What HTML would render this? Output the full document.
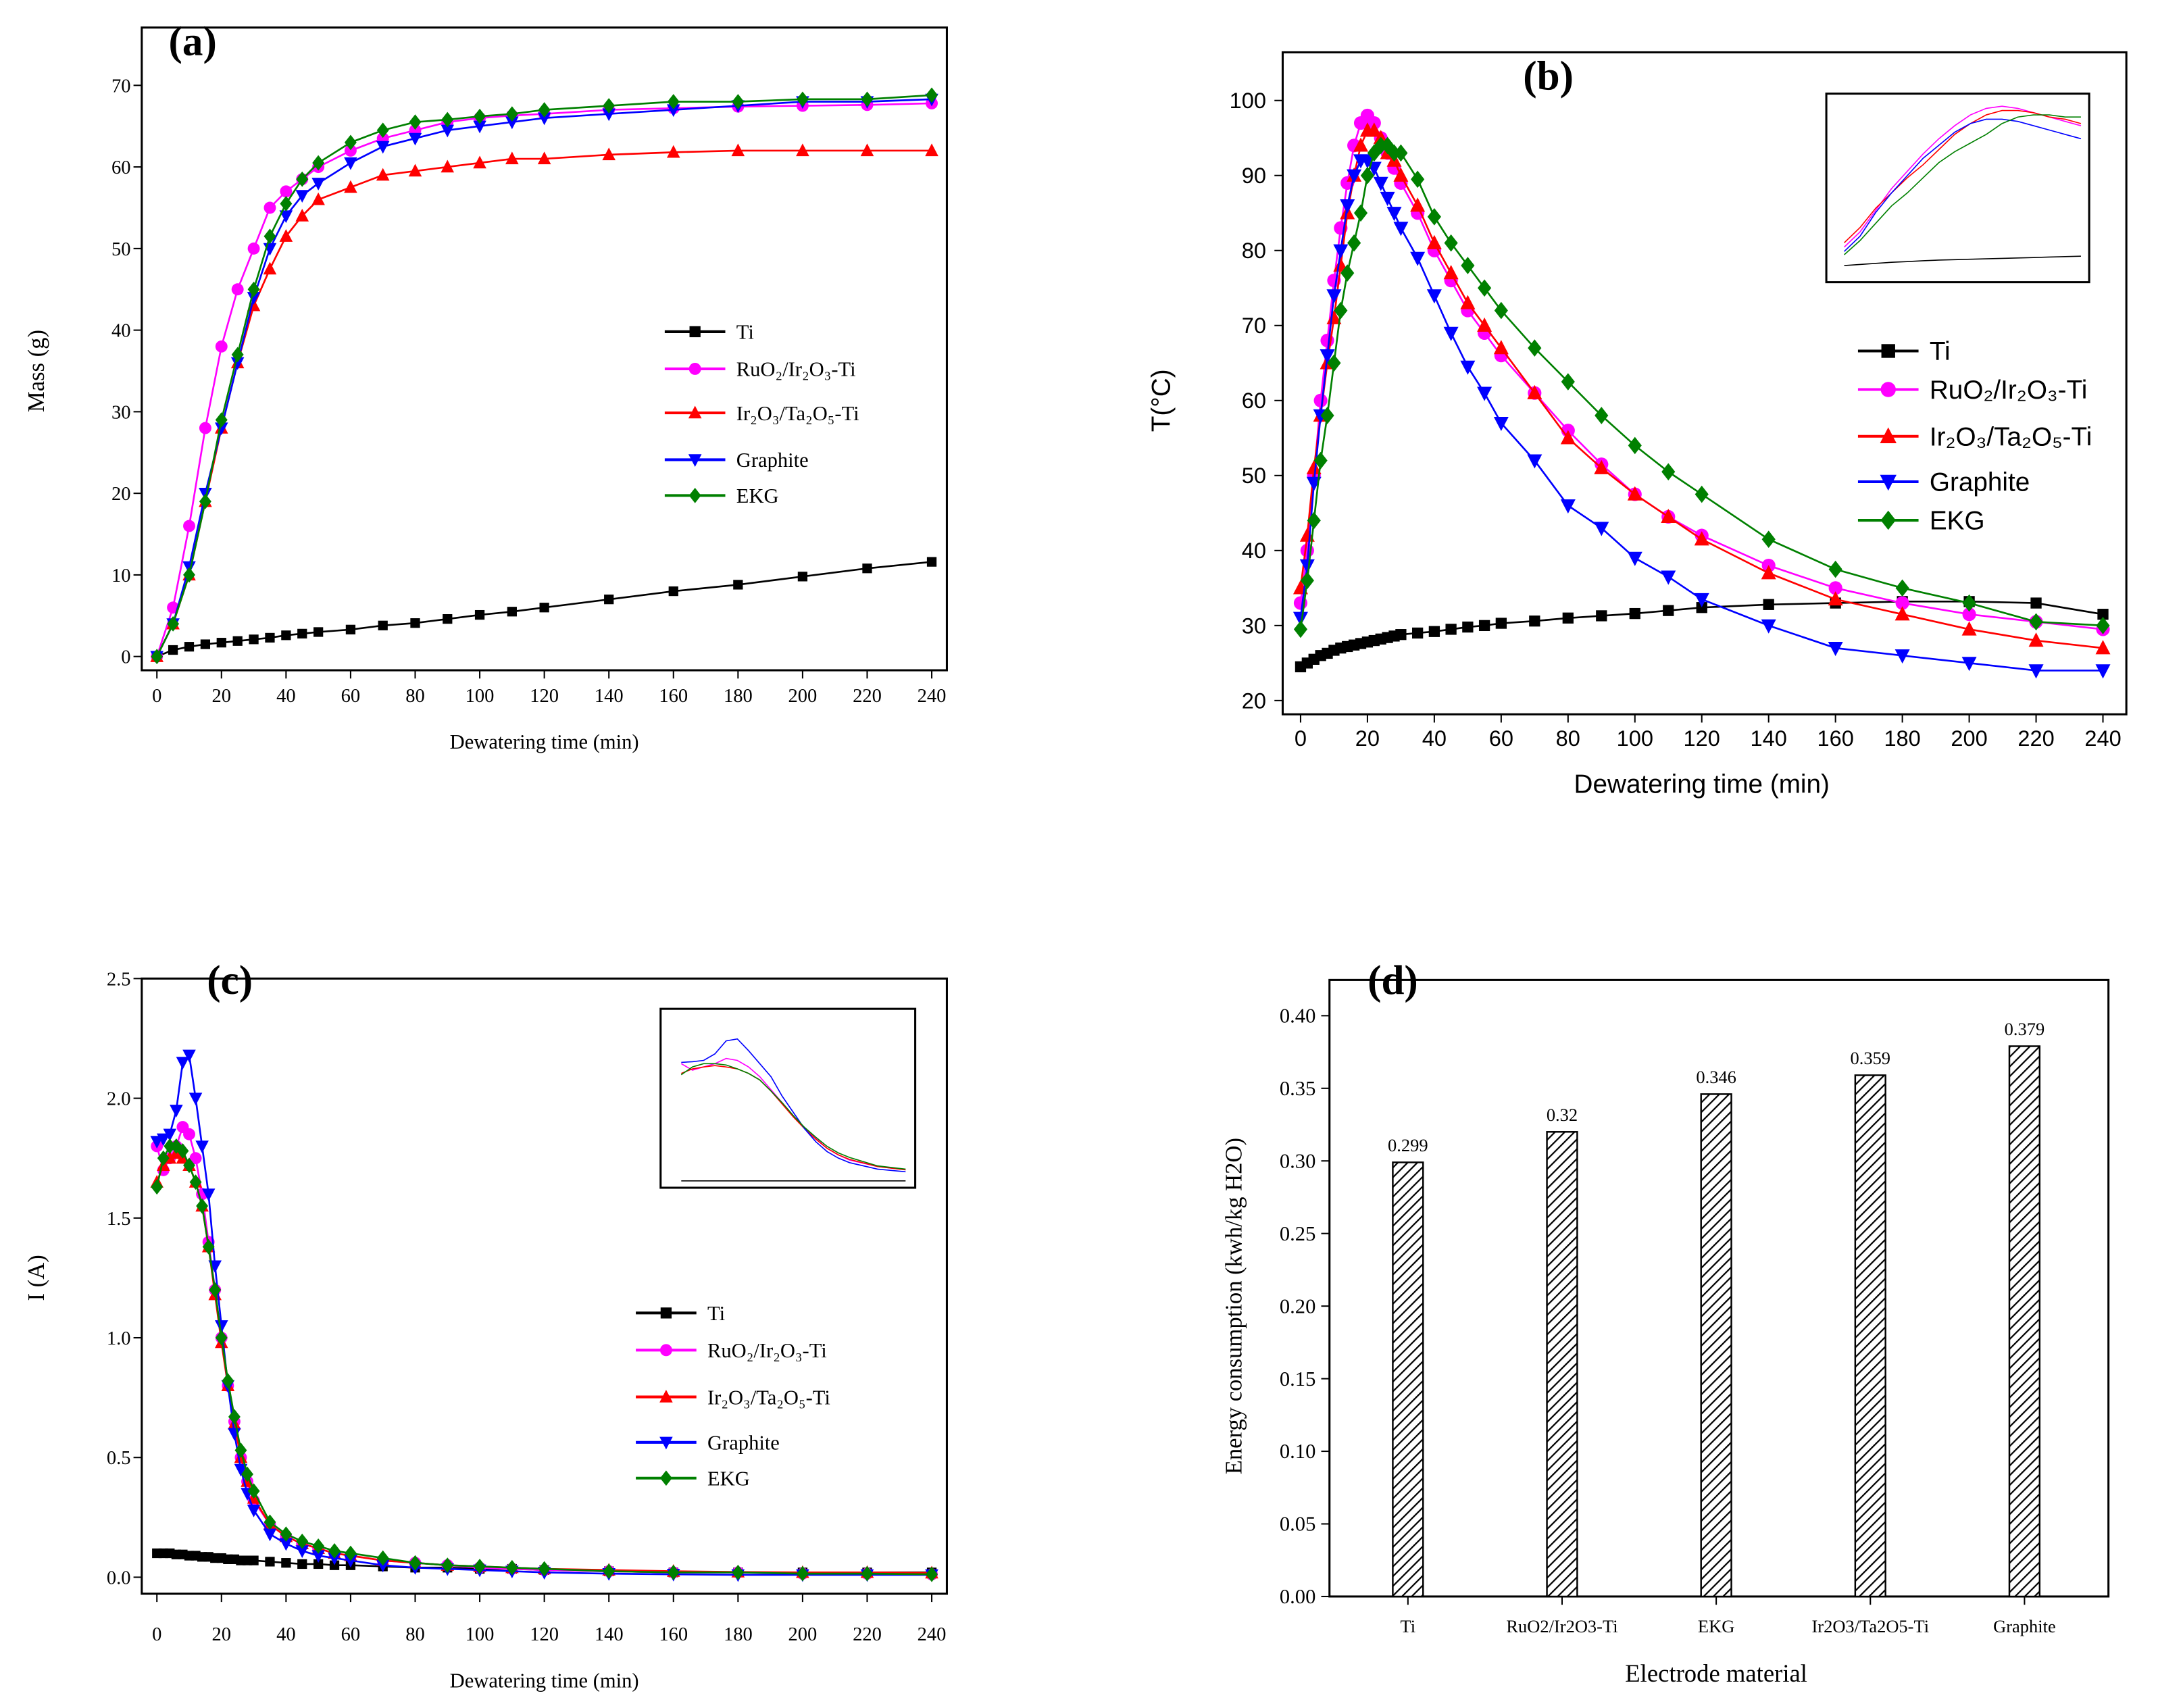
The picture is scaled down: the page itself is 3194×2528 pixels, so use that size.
<!DOCTYPE html>
<html><head><meta charset="utf-8"><style>
html,body{margin:0;padding:0;background:#fff;}
svg{display:block;}
.serif{font-family:"Liberation Serif",serif;}
.sans{font-family:"Liberation Sans",sans-serif;}
</style></head>
<body>
<svg id="fig" width="3194" height="2528" viewBox="0 0 1568 1241" xmlns="http://www.w3.org/2000/svg"></svg>
<script>
// ---------- DATA ----------
const timeA = [0,5,10,15,20,25,30,35,40,45,50,60,70,80,90,100,110,120,140,160,180,200,220,240];
const massTi   = [0,0.8,1.2,1.5,1.7,1.9,2.1,2.3,2.6,2.8,3.0,3.3,3.8,4.1,4.6,5.1,5.5,6.0,7.0,8.0,8.8,9.8,10.8,11.6];
const massRu   = [0,6,16,28,38,45,50,55,57,58.5,60,62,63.5,64.5,65.5,66,66.3,66.5,67,67.2,67.4,67.5,67.6,67.8];
const massIr   = [0,4,10,19,28,36,43,47.5,51.5,54,56,57.5,59,59.5,60,60.5,61,61,61.5,61.8,62,62,62,62];
const massGr   = [0,4,11,20,28,36,44,50,54,56.5,58,60.5,62.5,63.5,64.5,65,65.5,66,66.5,67,67.5,68,68,68.3];
const massEKG  = [0,4,10,19,29,37,45,51.5,55.5,58.5,60.5,63,64.5,65.5,65.8,66.2,66.5,67,67.5,68,68,68.3,68.3,68.8];

const timeB = [0,2,4,6,8,10,12,14,16,18,20,22,24,26,28,30,35,40,45,50,55,60,70,80,90,100,110,120,140,160,180,200,220,240];
const tempTi  = [24.5,25,25.5,26,26.3,26.7,27,27.2,27.4,27.6,27.8,28,28.2,28.4,28.6,28.8,29,29.2,29.5,29.8,30,30.3,30.6,31,31.3,31.6,32,32.4,32.8,33,33.2,33.2,33,31.5];
const tempRu  = [33,40,50,60,68,76,83,89,94,97,98,97,95,93,91,89,85,80,76,72,69,66,61,56,51.5,47.5,44.5,42,38,35,33,31.5,30.5,29.5];
const tempIr  = [35,42,51,58,65,71,78,85,90,94,96,96,95,93,92,90,86,81,77,73,70,67,61,55,51,47.5,44.5,41.5,37,33.5,31.5,29.5,28,27];
const tempGr  = [31,38,49,58,66,74,80,86,90,92,92,91,89,87,85,83,79,74,69,64.5,61,57,52,46,43,39,36.5,33.5,30,27,26,25,24,24];
const tempEKG = [29.5,36,44,52,58,65,72,77,81,85,90,93,94,94,93,93,89.5,84.5,81,78,75,72,67,62.5,58,54,50.5,47.5,41.5,37.5,35,33,30.5,30];

const timeC = [0,2,4,6,8,10,12,14,16,18,20,22,24,26,28,30,35,40,45,50,55,60,70,80,90,100,110,120,140,160,180,200,220,240];
const curTi  = [0.1,0.1,0.1,0.095,0.095,0.09,0.09,0.085,0.085,0.08,0.08,0.075,0.075,0.07,0.07,0.07,0.065,0.06,0.055,0.055,0.05,0.05,0.045,0.04,0.04,0.035,0.035,0.03,0.025,0.02,0.02,0.02,0.02,0.02];
const curRu  = [1.8,1.7,1.75,1.8,1.88,1.85,1.75,1.6,1.4,1.2,1.0,0.8,0.65,0.5,0.4,0.32,0.22,0.17,0.14,0.12,0.1,0.09,0.07,0.06,0.05,0.04,0.035,0.03,0.025,0.02,0.02,0.015,0.015,0.012];
const curIr  = [1.65,1.72,1.75,1.77,1.75,1.72,1.65,1.55,1.38,1.18,0.98,0.8,0.64,0.5,0.4,0.33,0.22,0.17,0.14,0.12,0.1,0.09,0.07,0.06,0.05,0.045,0.04,0.035,0.03,0.025,0.022,0.02,0.02,0.018];
const curGr  = [1.82,1.83,1.85,1.95,2.15,2.18,2.0,1.8,1.6,1.3,1.05,0.8,0.6,0.45,0.35,0.28,0.18,0.14,0.11,0.09,0.08,0.07,0.05,0.04,0.035,0.03,0.025,0.02,0.015,0.012,0.01,0.01,0.01,0.01];
const curEKG = [1.63,1.75,1.8,1.8,1.78,1.72,1.65,1.55,1.38,1.2,1.0,0.82,0.67,0.53,0.43,0.36,0.23,0.18,0.15,0.13,0.11,0.1,0.08,0.06,0.05,0.045,0.04,0.035,0.025,0.02,0.02,0.015,0.015,0.012];

const barCats = ["Ti","RuO2/Ir2O3-Ti","EKG","Ir2O3/Ta2O5-Ti","Graphite"];
const barVals = [0.299,0.32,0.346,0.359,0.379];
const barLabels = ["0.299","0.32","0.346","0.359","0.379"];

const xTicksTime = [0,20,40,60,80,100,120,140,160,180,200,220,240];
const yTicksA = [0,10,20,30,40,50,60,70];
const yTicksB = [20,30,40,50,60,70,80,90,100];
const yTicksC = [0,0.5,1.0,1.5,2.0,2.5];
const yTicksD = [0,0.05,0.10,0.15,0.20,0.25,0.30,0.35,0.40];

// ---------- HELPERS ----------
const NS="http://www.w3.org/2000/svg";
const svg=document.getElementById('fig');
function mk(tag,attrs,parent){const e=document.createElementNS(NS,tag);for(const k in attrs)e.setAttribute(k,attrs[k]);(parent||svg).appendChild(e);return e;}
function txt(s,x,y,size,cls,anchor,parent){const t=mk('text',{x:x,y:y,'font-size':size,'text-anchor':anchor||'middle',class:cls},parent);t.textContent=s;return t;}
function lin(d0,d1,r0,r1){return v=>r0+(v-d0)/(d1-d0)*(r1-r0);}
function marker(shape,x,y,col,s,g){
  let e;
  if(shape==='sq') e=mk('rect',{x:x-s,y:y-s,width:2*s,height:2*s,fill:col},g);
  else if(shape==='ci') e=mk('circle',{cx:x,cy:y,r:s*1.1,fill:col},g);
  else if(shape==='tu') e=mk('polygon',{points:`${x},${y-s*1.3} ${x-s*1.2},${y+s} ${x+s*1.2},${y+s}`,fill:col},g);
  else if(shape==='td') e=mk('polygon',{points:`${x},${y+s*1.3} ${x-s*1.2},${y-s} ${x+s*1.2},${y-s}`,fill:col},g);
  else e=mk('polygon',{points:`${x},${y-s*1.4} ${x-s*1.1},${y} ${x},${y+s*1.4} ${x+s*1.1},${y}`,fill:col},g);
  
  
}
function series(name,xs,ys,sx,sy,col,shape,s){
  const g=mk('g',{});
  
  
  mk('polyline',{points:xs.map((t,i)=>sx(t)+','+sy(ys[i])).join(' '),fill:'none',stroke:col,'stroke-width':1.3},g);
  xs.forEach((t,i)=>marker(shape,sx(t),sy(ys[i]),col,s,g));
}
function frame(name,l,t,r,b){
  const e=mk('rect',{x:l,y:t,width:r-l,height:b-t,fill:'none',stroke:'#000','stroke-width':1.5});
  
  
}
function axes(prefix,sx,sy,xt,yt,b,l,cls,fs,ydec,xTitle,yTitle,xtY,ytX,yTitleX){
  const g=mk('g',{});
  
  
  xt.forEach(v=>{mk('line',{x1:sx(v),x2:sx(v),y1:b,y2:b+6,stroke:'#000'},g);txt(String(v),sx(v),xtY,fs,cls,'middle',g);});
  yt.forEach(v=>{mk('line',{x1:l-6,x2:l,y1:sy(v),y2:sy(v),stroke:'#000'},g);txt(ydec!=null?v.toFixed(ydec):String(v),ytX,sy(v)+fs*0.35,fs,cls,'end',g);});
  const xtT=txt(xTitle,(sx(xt[0])+sx(xt[xt.length-1]))/2,xtY+34,cls==='sans'?19:15,cls,'middle',g);
  
  const ytT=mk('text',{x:0,y:0,'font-size':cls==='sans'?19:17,'text-anchor':'middle',class:cls,transform:`translate(${yTitleX},${(sy(yt[0])+sy(yt[yt.length-1]))/2}) rotate(-90)`},g);
  ytT.textContent=yTitle;
  
}
function legend(prefix,x,ys,fs,cls,s){
  const items=[["Ti","#000","sq"],["RuO₂/Ir₂O₃-Ti","#ff00ff","ci"],["Ir₂O₃/Ta₂O₅-Ti","#ff0000","tu"],["Graphite","#0000ff","td"],["EKG","#008000","di"]];
  const g=mk('g',{});
  
  
  items.forEach((it,i)=>{
    mk('line',{x1:x,x2:x+44,y1:ys[i],y2:ys[i],stroke:it[1],'stroke-width':2},g);
    marker(it[2],x+22,ys[i],it[1],s,g);
    txt(it[0],x+52,ys[i]+fs*0.35,fs,cls,'start',g);
  });
}
function panelLabel(s,x,y){const t=txt(s,x,y,30,'serif','middle');t.setAttribute('font-weight','bold');}
function insetLines(xs,list,ix,iy,n){
  list.forEach(p=>{
    const pl=mk('polyline',{points:xs.slice(0,n).map((t,i)=>ix(t)+','+iy(p[0][i])).join(' '),fill:'none',stroke:p[1],'stroke-width':0.8});
    
  });
}

// ---------- (a) ----------
{
const sx=lin(0,240,114,677), sy=lin(0,70,477,62);
frame('panel-a-plot-area',103,20,688,487);
axes('panel-a',sx,sy,xTicksTime,yTicksA,487,103,'serif',14,null,'Dewatering time (min)','Mass (g)',510,95,32);
series('ti-series',timeA,massTi,sx,sy,'#000','sq',3.5);
series('ruo2-series',timeA,massRu,sx,sy,'#ff00ff','ci',4);
series('ir2o3-series',timeA,massIr,sx,sy,'#ff0000','tu',4);
series('graphite-series',timeA,massGr,sx,sy,'#0000ff','td',4);
series('ekg-series',timeA,massEKG,sx,sy,'#008000','di',4);
legend('panel-a',483,[241,268,300,334,360],15,'serif',4);
panelLabel('(a)',140,40);
}
// ---------- (b) ----------
{
const sx=lin(0,240,945,1528), sy=lin(20,100,509,73);
frame('panel-b-plot-area',932,38,1545,519);
axes('panel-b',sx,sy,xTicksTime,yTicksB,519,932,'sans',16,null,'Dewatering time (min)','T(°C)',542,920,850);
series('ti-series',timeB,tempTi,sx,sy,'#000','sq',4);
series('ruo2-series',timeB,tempRu,sx,sy,'#ff00ff','ci',4.5);
series('ir2o3-series',timeB,tempIr,sx,sy,'#ff0000','tu',4.5);
series('graphite-series',timeB,tempGr,sx,sy,'#0000ff','td',4.5);
series('ekg-series',timeB,tempEKG,sx,sy,'#008000','di',4.5);
legend('panel-b',1350,[255,283,317,350,378],19,'sans',5);
panelLabel('(b)',1125,65);
frame('panel-b-inset',1327,68,1518,205);
insetLines(timeB,[[tempRu,'#ff00ff'],[tempIr,'#ff0000'],[tempGr,'#0000ff'],[tempEKG,'#008000'],[tempTi,'#000']],lin(0,30,1340,1512),lin(20,100,200,74),16);
}
// ---------- (c) ----------
{
const sx=lin(0,240,114,677), sy=lin(0,2.5,1146,711);
frame('panel-c-plot-area',103,711,688,1158);
axes('panel-c',sx,sy,xTicksTime,yTicksC,1158,103,'serif',14,1,'Dewatering time (min)','I (A)',1192,95,32);
series('ti-series',timeC,curTi,sx,sy,'#000','sq',3.5);
series('ruo2-series',timeC,curRu,sx,sy,'#ff00ff','ci',4);
series('ir2o3-series',timeC,curIr,sx,sy,'#ff0000','tu',4);
series('graphite-series',timeC,curGr,sx,sy,'#0000ff','td',4);
series('ekg-series',timeC,curEKG,sx,sy,'#008000','di',4);
legend('panel-c',462,[954,981,1015,1048,1074],15,'serif',4);
panelLabel('(c)',167,722);
frame('panel-c-inset',480,733,665,863);
insetLines(timeC,[[curRu,'#ff00ff'],[curIr,'#ff0000'],[curGr,'#0000ff'],[curEKG,'#008000']],lin(0,40,495,658),lin(0,2.6,858,735),18);
const tl=mk('line',{x1:495,x2:658,y1:858,y2:858,stroke:'#000','stroke-width':0.8});

}
// ---------- (d) ----------
{
const sy=lin(0,0.40,1160,738);
const bx=i=>1023+i*112;
frame('panel-d-plot-area',966,712,1532,1160);
const defs=mk('defs',{});
const pat=mk('pattern',{id:'hatch',width:5,height:5,patternUnits:'userSpaceOnUse',patternTransform:'rotate(45)'},defs);
mk('rect',{width:5,height:5,fill:'#fff'},pat);
mk('line',{x1:0,y1:0,x2:0,y2:5,stroke:'#000','stroke-width':2.2},pat);
yTicksD.forEach(v=>{mk('line',{x1:960,x2:966,y1:sy(v),y2:sy(v),stroke:'#000'});txt(v.toFixed(2),956,sy(v)+5,15,'serif','end');});
barVals.forEach((v,i)=>{
  const r=mk('rect',{x:bx(i)-11,y:sy(v),width:22,height:sy(0)-sy(v),fill:'url(#hatch)',stroke:'#000','stroke-width':1.2});
  
  
  txt(barLabels[i],bx(i),sy(v)-8,13,'serif','middle');
  txt(barCats[i],bx(i),1186,13,'serif','middle');
  mk('line',{x1:bx(i),x2:bx(i),y1:1160,y2:1166,stroke:'#000'});
});
const xt=txt('Electrode material',1247,1222,18,'serif','middle');
const yt=mk('text',{x:0,y:0,'font-size':17,'text-anchor':'middle',class:'serif',transform:'translate(902,949) rotate(-90)'});yt.textContent='Energy consumption (kwh/kg H2O)';
panelLabel('(d)',1012,722);
}
</script>
</body></html>
